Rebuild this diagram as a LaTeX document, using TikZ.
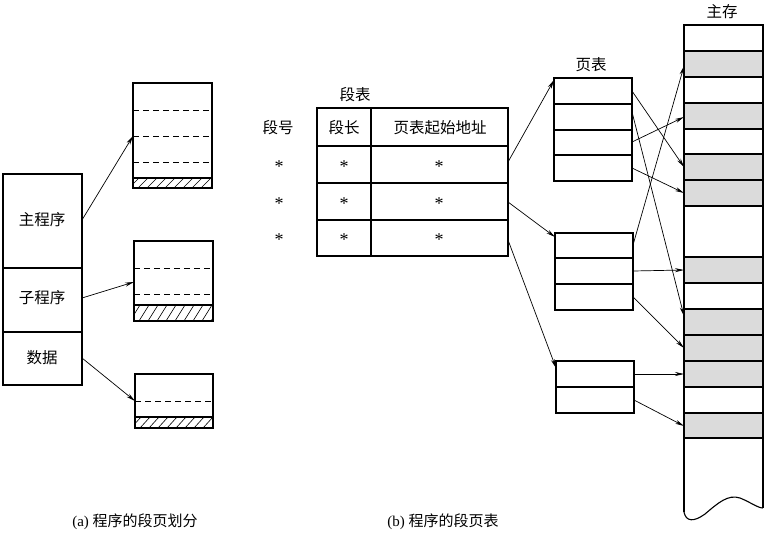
\documentclass[tikz,border=0pt]{standalone}
\usepackage{fontspec}
\setmainfont{Liberation Serif}
\newfontfamily\cjk{Noto Sans CJK SC}
\usetikzlibrary{arrows.meta}
\begin{document}
\begin{tikzpicture}[x=1pt,y=-1pt,line width=1.1pt,
  arr/.style={-{Stealth[length=9pt,width=4pt]},line width=0.7pt},
  dsh/.style={dashed,dash pattern=on 6pt off 4pt,line width=0.8pt},
  lbl/.style={font=\fontsize{15.5}{15.5}\selectfont\cjk,inner sep=0pt},
  st/.style={font=\fontsize{18}{18}\selectfont,inner sep=0pt},
  shade/.style={fill=gray!28,draw=black}]
\useasboundingbox (0,0) rectangle (770,538);
% left program
\draw (3,174) rectangle (82,385);
\draw (3,268)--(82,268) (3,332)--(82,332);
\node[lbl] (mp) at (42,220) {主程序};
\node[lbl] (sp) at (42,298) {子程序};
\node[lbl] (dt) at (42,358) {数据};
\coordinate (a1) at (82,220); \coordinate (a2) at (82,298); \coordinate (a3) at (82,358);
% segment boxes
\newcommand{\hatch}[4]{\begin{scope}\clip (#1,#3) rectangle (#2,#4);
  \foreach \i in {0,9,...,100} {\draw[line width=0.6pt] (#1+\i-4,#4)--(#1+\i+6,#3);}\end{scope}
  \draw (#1,#3)--(#2,#3);}
\hatch{133}{212}{178}{188}
\draw (133,83) rectangle (212,188);
\draw[dsh] (133,110)--(212,110) (133,136)--(212,136) (133,162)--(212,162);
\hatch{134}{213}{305}{321}
\draw (134,241) rectangle (213,321);
\draw[dsh] (134,268)--(213,268) (134,294)--(213,294);
\hatch{135}{213}{417}{428}
\draw (135,374) rectangle (213,428);
\draw[dsh] (135,401)--(213,401);
\coordinate (b1) at (133,136); \coordinate (b2) at (134,282); \coordinate (b3) at (135,401);
\draw[arr] (a1)--(b1); \draw[arr] (a2)--(b2); \draw[arr] (a3)--(b3);
% segment table
\node[lbl] (stl) at (355,95) {段表};
\node[lbl] (sno) at (278,128) {段号};
\draw (317,108) rectangle (508,256);
\draw (371,108)--(371,256);
\draw (317,146)--(508,146) (317,183)--(508,183) (317,220)--(508,220);
\node[lbl] (slen) at (344,128) {段长};
\node[lbl] (ptaddr) at (440,128) {页表起始地址};
\foreach \y in {167,204,240} {\node[st] at (279,\y) {*}; \node[st] at (344,\y) {*}; \node[st] at (439,\y) {*};}
% page tables
\node[lbl] (ptl) at (591,65) {页表};
\draw (554,78) rectangle (632,181);
\draw (554,104)--(632,104) (554,130)--(632,130) (554,155)--(632,155);
\draw (555,233) rectangle (633,310);
\draw (555,258)--(633,258) (555,284)--(633,284);
\draw (556,361) rectangle (634,413);
\draw (556,387)--(634,387);
\coordinate (s1) at (508,162); \coordinate (s2) at (508,202); \coordinate (s3) at (508,240);
\coordinate (p1) at (554,80); \coordinate (p2) at (555,237); \coordinate (p3) at (556,368);
\draw[arr] (s1)--(p1); \draw[arr] (s2)--(p2); \draw[arr] (s3)--(p3);
% memory
\node[lbl] (mem) at (722,12) {主存};
\foreach \a/\b in {51/77,103/129,154/180,180/206,257/283,309/335,335/361,361/387,413/438}
  {\fill[gray!28] (684,\a) rectangle (763,\b);}
\draw (684,512) -- (684,25) -- (763,25) -- (763,508);
\draw (684,512) .. controls (686,522) and (694,522) .. (705,514) .. controls (718,503) and (728,494) .. (740,498) .. controls (750,502) and (758,508) .. (763,508);
\foreach \y in {51,77,103,129,154,180,206,257,283,309,335,361,387,413,438} {\draw (684,\y)--(763,\y);}
% page table -> memory arrows
\draw[arr] (632,91)--(684,167);
\draw[arr] (632,112)--(684,316);
\draw[arr] (632,142)--(684,117);
\draw[arr] (632,168)--(684,193);
\draw[arr] (633,245)--(684,66);
\draw[arr] (633,271)--(684,270);
\draw[arr] (633,297)--(684,348);
\draw[arr] (634,374)--(684,374);
\draw[arr] (634,400)--(684,426);
% captions
\node[font=\fontsize{15}{15}\selectfont,inner sep=0pt] (ca) at (135,522) {(a) {\cjk 程序的段页划分}};
\node[font=\fontsize{15}{15}\selectfont,inner sep=0pt] (cb) at (443,522) {(b) {\cjk 程序的段页表}};
\end{tikzpicture}
\end{document}
